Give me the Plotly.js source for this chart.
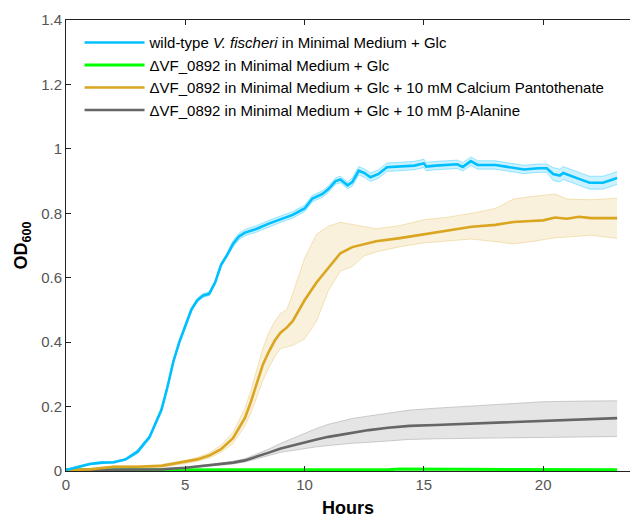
<!DOCTYPE html>
<html><head><meta charset="utf-8">
<script src="https://cdn.plot.ly/plotly-3.0.1.min.js"></script>
<style>html,body{margin:0;padding:0;background:#fff}#chart{width:630px;height:518px}</style>
</head><body><div id="chart"></div>
<script>
const seriesNames = [
  'wild-type <i>V. fischeri</i> in Minimal Medium + Glc',
  '\u0394VF_0892 in Minimal Medium + Glc',
  '\u0394VF_0892 in Minimal Medium + Glc + 10 mM Calcium Pantothenate',
  '\u0394VF_0892 in Minimal Medium + Glc + 10 mM \u03b2-Alanine'
];
const xTicks = [0, 5, 10, 15, 20];
const yTicks = [0, 0.2, 0.4, 0.6, 0.8, 1, 1.2, 1.4];
const yTickText = ['0', '0.2', '0.4', '0.6', '0.8', '1', '1.2', '1.4'];

const blueT = [0,0.5,1,1.5,2,2.5,3,3.5,4,4.25,4.5,4.75,5,5.25,5.5,5.75,6,6.25,6.5,6.75,7,7.25,7.5,8,8.5,9,9.5,10,10.33,10.75,11,11.3,11.5,11.8,12,12.27,12.5,12.76,13.1,13.45,14,14.6,15,15.1,15.5,16,16.4,16.63,16.97,17.25,18,18.5,19.2,19.8,20.15,20.42,20.7,20.84,21.26,21.53,21.95,22.5,22.92,23.1];
const blueMean = [0.003,0.013,0.022,0.026,0.027,0.036,0.06,0.105,0.19,0.26,0.34,0.40,0.45,0.50,0.53,0.545,0.55,0.585,0.64,0.67,0.705,0.728,0.74,0.752,0.768,0.782,0.795,0.815,0.846,0.86,0.875,0.9,0.905,0.887,0.897,0.932,0.925,0.912,0.922,0.943,0.945,0.948,0.955,0.945,0.948,0.95,0.952,0.944,0.962,0.95,0.95,0.944,0.936,0.94,0.94,0.922,0.917,0.925,0.912,0.906,0.895,0.895,0.905,0.91];
const blueSd = [0.003,0.003,0.003,0.003,0.003,0.003,0.006,0.006,0.006,0.006,0.006,0.006,0.006,0.006,0.006,0.006,0.006,0.006,0.006,0.006,0.01,0.01,0.01,0.01,0.01,0.01,0.01,0.01,0.01,0.01,0.01,0.01,0.01,0.01,0.013,0.013,0.013,0.013,0.013,0.013,0.013,0.013,0.013,0.013,0.013,0.013,0.013,0.013,0.013,0.013,0.013,0.013,0.013,0.013,0.013,0.02,0.02,0.02,0.02,0.02,0.02,0.02,0.02,0.02];

const greenT = [0,2,4,6,8,10,12,13.5,14,15,16,17,17.5,18,18.5,19,19.5,20,21,21.5,22,23.1];
const greenMean = [0.003,0.003,0.003,0.003,0.004,0.003,0.003,0.004,0.006,0.006,0.005,0.004,0.006,0.005,0.006,0.005,0.004,0.004,0.006,0.004,0.004,0.004];

const orangeT = [0,1,2,3,4,5,5.5,6,6.5,7,7.5,7.75,8,8.25,8.5,8.75,9,9.25,9.5,10,10.5,11,11.5,12,12.5,13,14,15,16,17,18,18.75,19.5,20,20.5,21,21.5,22,23.1];
const orangeMean = [0.003,0.005,0.013,0.013,0.016,0.028,0.036,0.048,0.068,0.102,0.165,0.215,0.27,0.33,0.37,0.405,0.43,0.445,0.465,0.53,0.585,0.632,0.676,0.695,0.705,0.713,0.723,0.735,0.746,0.758,0.764,0.773,0.776,0.778,0.787,0.783,0.789,0.785,0.785];
const orangeLo = [0.001,0.003,0.010,0.010,0.012,0.023,0.030,0.040,0.058,0.085,0.14,0.18,0.23,0.28,0.32,0.355,0.38,0.385,0.39,0.41,0.465,0.56,0.62,0.635,0.668,0.68,0.696,0.708,0.715,0.72,0.712,0.705,0.712,0.718,0.724,0.726,0.728,0.732,0.722];
const orangeHi = [0.005,0.008,0.016,0.016,0.020,0.033,0.042,0.056,0.080,0.12,0.195,0.25,0.315,0.38,0.43,0.465,0.49,0.50,0.55,0.66,0.735,0.76,0.772,0.765,0.758,0.752,0.762,0.78,0.788,0.80,0.815,0.844,0.852,0.855,0.86,0.844,0.842,0.842,0.847];

const grayT = [0,2,4,5,6,7,7.5,8,8.5,9,9.5,10,10.5,11,11.5,12,12.7,13.5,14.4,15.5,16.5,18,20,21.5,23.1];
const grayMean = [0.003,0.003,0.005,0.010,0.017,0.026,0.033,0.044,0.057,0.07,0.08,0.088,0.098,0.106,0.112,0.119,0.127,0.134,0.140,0.143,0.146,0.150,0.156,0.160,0.164];
const grayLo = [0.002,0.002,0.004,0.008,0.014,0.022,0.028,0.037,0.048,0.058,0.064,0.070,0.075,0.079,0.083,0.086,0.089,0.093,0.098,0.100,0.101,0.102,0.104,0.106,0.107];
const grayHi = [0.004,0.004,0.007,0.012,0.020,0.030,0.038,0.052,0.068,0.086,0.102,0.118,0.132,0.145,0.155,0.163,0.171,0.18,0.189,0.195,0.199,0.206,0.215,0.217,0.218];

const blueLo = blueMean.map((v, i) => v - blueSd[i]);
const blueHi = blueMean.map((v, i) => v + blueSd[i]);

function band(x, lo, hi, edge, fill) {
  return [
    {x: x, y: lo, type: 'scatter', mode: 'lines', line: {color: edge, width: 0.8}, showlegend: false, hoverinfo: 'skip'},
    {x: x, y: hi, type: 'scatter', mode: 'lines', line: {color: edge, width: 0.8}, fill: 'tonexty', fillcolor: fill, showlegend: false, hoverinfo: 'skip'}
  ];
}
function line(x, y, color, name, rank, w) {
  return {x: x, y: y, type: 'scatter', mode: 'lines', name: name, legendgroup: 'g' + rank, legendrank: rank,
          line: {color: color, width: w}};
}

const data = [].concat(
  band(grayT, grayLo, grayHi, 'rgba(150,150,150,0.55)', 'rgba(160,160,160,0.27)'),
  band(orangeT, orangeLo, orangeHi, 'rgba(218,165,32,0.35)', 'rgba(218,165,32,0.16)'),
  band(blueT, blueLo, blueHi, 'rgba(0,191,255,0.45)', 'rgba(0,191,255,0.2)'),
  [
    line(greenT, greenMean, '#00ff00', seriesNames[1], 2, 3),
    line(grayT, grayMean, '#666666', seriesNames[3], 4, 2.6),
    line(orangeT, orangeMean, '#daa520', seriesNames[2], 3, 2.6),
    line(blueT, blueMean, '#00bfff', seriesNames[0], 1, 2.6)
  ]
);

const font = 'Liberation Sans, Arial, sans-serif';
const layout = {
  width: 630, height: 518,
  margin: {l: 66, r: 0, t: 20, b: 47},
  paper_bgcolor: '#fff', plot_bgcolor: '#fff',
  font: {family: font, size: 13, color: '#000'},
  showlegend: true,
  legend: {x: 0.024, y: 0.986, xanchor: 'left', yanchor: 'top', bgcolor: 'rgba(0,0,0,0)',
           font: {family: font, size: 15, color: '#000'}, traceorder: 'grouped', tracegroupgap: 0, itemwidth: 60},
  xaxis: {range: [0, 23.64], tickvals: xTicks, ticks: 'inside', ticklen: 5, tickcolor: '#222',
          showline: true, linecolor: '#222', linewidth: 1, mirror: 'ticks', showgrid: false, zeroline: false,
          tickfont: {family: font, size: 15, color: '#555'},
          title: {text: '<b>Hours</b>', font: {family: font, size: 18, color: '#000'}, standoff: 11}},
  yaxis: {range: [0, 1.4], tickvals: yTicks, ticktext: yTickText, ticks: 'inside', ticklen: 5, tickcolor: '#222',
          showline: true, linecolor: '#222', linewidth: 1, showgrid: false, zeroline: false,
          tickfont: {family: font, size: 15, color: '#555'},
          title: {text: '<b>OD<sub>600</sub></b>', font: {family: font, size: 18, color: '#000'}, standoff: 8}}
};
Plotly.newPlot('chart', data, layout, {displayModeBar: false, staticPlot: true});
</script></body></html>
